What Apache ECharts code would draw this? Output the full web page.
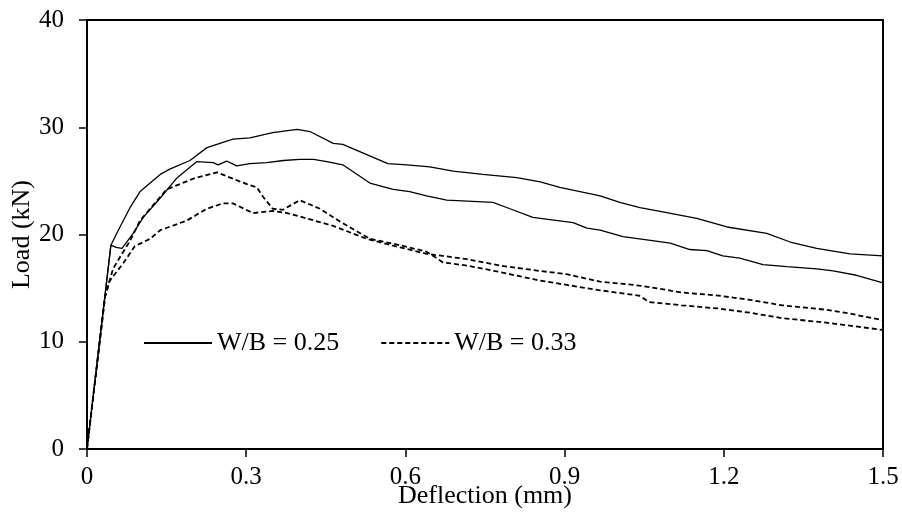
<!DOCTYPE html>
<html>
<head>
<meta charset="utf-8">
<script src="https://cdn.jsdelivr.net/npm/echarts@6/dist/echarts.min.js"></script>
<style>
  html, body { margin: 0; padding: 0; background: #fff; }
  #chart { width: 902px; height: 514px; }
</style>
</head>
<body>
<div id="chart"></div>
<script>
// 数据 (deflection mm, load kN)
var xTicks = [0, 0.3, 0.6, 0.9, 1.2, 1.5];
var yTicks = [0, 10, 20, 30, 40];

// W/B = 0.25 上面那条
var wb25a = [[0,0],[0.045,19.0],[0.059,20.4],[0.081,22.5],[0.1,24.0],[0.138,25.6],[0.156,26.1],[0.194,26.9],
  [0.226,28.1],[0.275,28.9],[0.307,29.0],[0.35,29.5],[0.396,29.8],[0.42,29.6],[0.464,28.5],[0.482,28.4],
  [0.567,26.6],[0.603,26.5],[0.646,26.3],[0.69,25.9],[0.746,25.6],[0.81,25.3],[0.854,24.9],[0.891,24.4],
  [0.967,23.6],[1.004,23.0],[1.042,22.5],[1.085,22.1],[1.149,21.5],[1.206,20.7],[1.281,20.1],[1.325,19.3],
  [1.375,18.7],[1.438,18.2],[1.5,18.0]];
// W/B = 0.25 下面那条
var wb25b = [[0,0],[0.045,19.0],[0.055,18.8],[0.066,18.7],[0.087,20.1],[0.106,21.6],[0.138,23.4],[0.17,25.3],
  [0.207,26.8],[0.238,26.7],[0.247,26.5],[0.263,26.85],[0.282,26.4],[0.307,26.6],[0.339,26.7],[0.37,26.9],
  [0.401,27.0],[0.427,27.0],[0.452,26.8],[0.482,26.5],[0.533,24.8],[0.577,24.2],[0.608,24.0],[0.64,23.6],
  [0.678,23.2],[0.765,23.0],[0.797,22.4],[0.84,21.6],[0.916,21.1],[0.942,20.6],[0.967,20.4],[1.01,19.8],
  [1.055,19.5],[1.099,19.2],[1.136,18.6],[1.168,18.5],[1.198,18.0],[1.23,17.8],[1.274,17.2],[1.319,17.0],
  [1.375,16.8],[1.406,16.6],[1.45,16.2],[1.5,15.5]];
// W/B = 0.33 (虚线)
var wb33a = [[0,0],[0.034,14.2],[0.049,16.8],[0.066,18.2],[0.081,19.4],[0.1,21.3],[0.15,24.2],[0.2,25.2],
  [0.245,25.8],[0.275,25.2],[0.301,24.7],[0.32,24.4],[0.332,23.5],[0.35,22.4],[0.369,22.3],[0.401,23.2],
  [0.439,22.4],[0.477,21.2],[0.533,19.6],[0.59,19.0],[0.64,18.4],[0.671,17.4],[0.716,17.1],[0.778,16.5],
  [0.854,15.7],[0.904,15.3],[0.967,14.8],[1.04,14.3],[1.06,13.7],[1.12,13.4],[1.19,13.1],[1.25,12.7],
  [1.31,12.2],[1.39,11.8],[1.5,11.1]];
var wb33b = [[0,0],[0.034,14.2],[0.043,15.7],[0.068,17.3],[0.09,18.9],[0.119,19.6],[0.138,20.4],[0.188,21.3],
  [0.226,22.4],[0.256,22.9],[0.275,22.9],[0.313,22.0],[0.35,22.2],[0.377,22.0],[0.414,21.5],[0.464,20.8],
  [0.527,19.6],[0.59,18.8],[0.64,18.2],[0.671,18.0],[0.716,17.7],[0.778,17.1],[0.854,16.6],[0.904,16.3],
  [0.967,15.6],[1.03,15.3],[1.06,15.1],[1.12,14.6],[1.19,14.3],[1.25,13.9],[1.31,13.4],[1.39,13.0],
  [1.43,12.7],[1.5,12.0]];

var font = "'Liberation Serif', 'Times New Roman', serif";

function lineSeries(name, data, dashed) {
  return {
    name: name,
    type: "line",
    data: data,
    symbol: "none",
    smooth: false,
    itemStyle: { color: "#000" },
    lineStyle: {
      color: "#000",
      width: dashed ? 1.8 : 1.3,
      type: dashed ? [5, 3] : "solid",
    },
  };
}

var chart = echarts.init(document.getElementById("chart"));
chart.setOption({
  animation: false,
  backgroundColor: "#fff",
  grid: {
    left: 87,
    right: 19,
    top: 20,
    bottom: 65,
    outerBoundsMode: "none",
    containLabel: false,
    show: true,
    borderColor: "#000",
    borderWidth: 2,
  },
  legend: {
    left: 138,
    top: 325,
    itemWidth: 68,
    itemHeight: 14,
    itemGap: 41,
    selectedMode: false,
    data: ["W/B = 0.25", "W/B = 0.33"],
    itemStyle: { opacity: 0 },
    textStyle: {
      fontFamily: font,
      fontSize: 26,
      lineHeight: 26,
      color: "#000",
    },
  },
  xAxis: {
    type: "value",
    min: xTicks[0],
    max: xTicks[xTicks.length - 1],
    interval: 0.3,
    name: "Deflection (mm)",
    nameLocation: "middle",
    nameGap: 34,
    nameMoveOverlap: false,
    nameTextStyle: { fontFamily: font, fontSize: 26, color: "#000" },
    axisLine: { show: true, onZero: false, lineStyle: { color: "#000", width: 2 } },
    axisTick: { show: true, inside: false, length: 8, lineStyle: { color: "#000", width: 1.5 } },
    axisLabel: { fontFamily: font, fontSize: 25, color: "#000", margin: 16 },
    splitLine: { show: false },
  },
  yAxis: {
    type: "value",
    min: yTicks[0],
    max: yTicks[yTicks.length - 1],
    interval: 10,
    name: "Load (kN)",
    nameLocation: "middle",
    nameGap: 52,
    nameMoveOverlap: false,
    nameTextStyle: { fontFamily: font, fontSize: 26, color: "#000" },
    axisLine: { show: true, lineStyle: { color: "#000", width: 2 } },
    axisTick: { show: true, inside: false, length: 8, lineStyle: { color: "#000", width: 1.5 } },
    axisLabel: { fontFamily: font, fontSize: 25, color: "#000", margin: 23 },
    splitLine: { show: false },
  },
  series: [
    lineSeries("W/B = 0.25", wb25a, false),
    lineSeries("W/B = 0.25", wb25b, false),
    lineSeries("W/B = 0.33", wb33a, true),
    lineSeries("W/B = 0.33", wb33b, true),
  ],
});
</script>
</body>
</html>
